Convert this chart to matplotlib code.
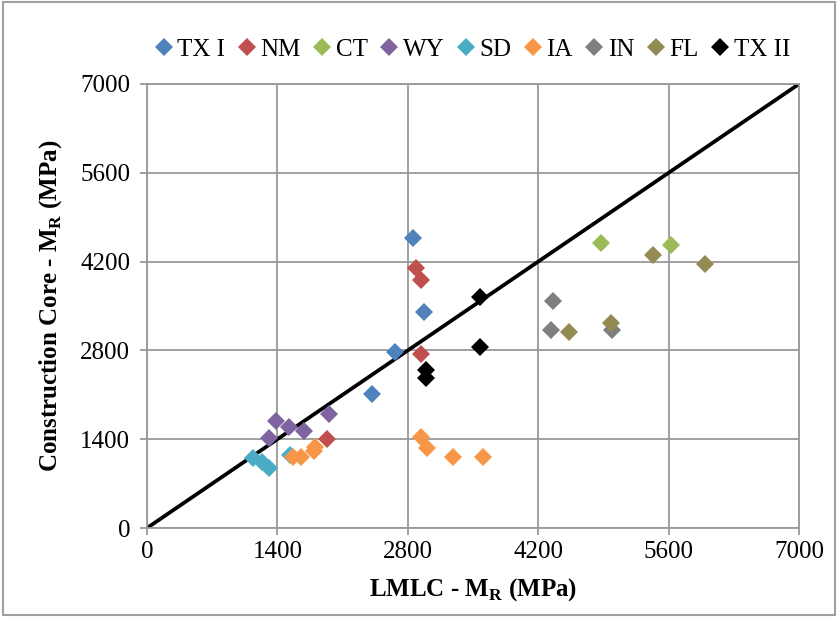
import matplotlib
matplotlib.use('Agg')
import matplotlib.pyplot as plt
from matplotlib.patches import Rectangle

plt.rcParams['font.family'] = ['Liberation Serif', 'DejaVu Serif']
plt.rcParams['mathtext.fontset'] = 'custom'
plt.rcParams['mathtext.rm'] = 'Liberation Serif'
plt.rcParams['mathtext.bf'] = 'Liberation Serif:bold'

# LMLC MR (x) vs construction core MR (y), MPa
tx1_x = [2853, 2974, 2666, 2416]
tx1_y = [4567, 3401, 2780, 2108]
nm_x = [2888, 2942, 2938, 1929]
nm_y = [4104, 3910, 2743, 1408]
ct_x = [4878, 5623]
ct_y = [4498, 4462]
wy_x = [1385, 1528, 1686, 1313, 1954]
wy_y = [1687, 1597, 1534, 1424, 1802]
sd_x = [1135, 1231, 1313, 1535]
sd_y = [1109, 1046, 951, 1151]
ia_x = [1571, 1650, 1804, 1793, 2938, 3003, 3282, 3604]
ia_y = [1125, 1125, 1282, 1219, 1430, 1256, 1114, 1114]
in_x = [4362, 4338, 4992]
in_y = [3584, 3122, 3122]
fl_x = [5429, 5994, 4527, 4982]
fl_y = [4304, 4157, 3085, 3237]
tx2_x = [3575, 3575, 2995, 2995]
tx2_y = [3647, 2849, 2491, 2360]

series = [
    ('TX I', tx1_x, tx1_y, '#4F81BD'),
    ('NM', nm_x, nm_y, '#C0504D'),
    ('CT', ct_x, ct_y, '#9BBB59'),
    ('WY', wy_x, wy_y, '#8064A2'),
    ('SD', sd_x, sd_y, '#4BACC6'),
    ('IA', ia_x, ia_y, '#F79646'),
    ('IN', in_x, in_y, '#7F7F7F'),
    ('FL', fl_x, fl_y, '#948A54'),
    ('TX II', tx2_x, tx2_y, '#000000'),
]
ticks = [0, 1400, 2800, 4200, 5600, 7000]

fig = plt.figure(figsize=(8.38, 6.17), dpi=100)
ax = fig.add_axes([0.1754, 0.1442, 0.7781, 0.7197])

ax.plot([0, 7000], [0, 7000], color='black', lw=2.7, zorder=2)
for name, xs, ys, c in series:
    ax.plot(xs, ys, 'D', color=c, ms=9, mew=0, label=name, zorder=3)

ax.set_xlim(0, 7000)
ax.set_ylim(0, 7000)
ax.set_xticks(ticks)
ax.set_yticks(ticks)
ax.grid(True, color='#999999', lw=1.3)
ax.set_axisbelow(True)
for s in ax.spines.values():
    s.set_color('#999999')
    s.set_linewidth(1.3)
ax.tick_params(colors='#999999', labelcolor='black', labelsize=18, length=5, width=1.3, pad=4)
ax.tick_params(axis='y', pad=7)

ax.set_xlabel(r'LMLC - M$_\mathbf{R}$ (MPa)', fontsize=18, fontweight='bold', labelpad=10)
ax.set_ylabel(r'Construction Core - M$_\mathbf{R}$ (MPa)', fontsize=18, fontweight='bold', labelpad=12)

fig.legend(loc='center', bbox_to_anchor=(0.563, 0.92), ncol=9, frameon=False,
           fontsize=18, handletextpad=0.15, columnspacing=0.45,
           handlelength=0.8, borderpad=0.2)

fig.patches.append(Rectangle((0.003, 0.003), 0.994, 0.994, transform=fig.transFigure,
                             fill=False, edgecolor='#A0A0A0', lw=1.5))

fig.savefig('out.png', dpi=100)
